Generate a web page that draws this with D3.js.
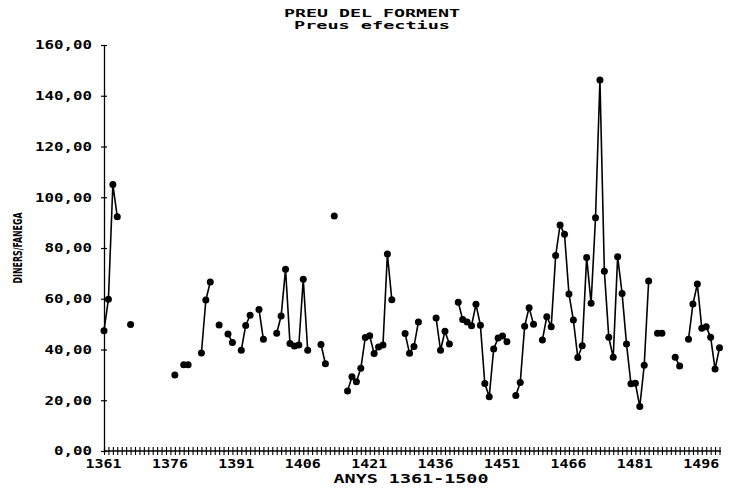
<!DOCTYPE html>
<html>
<head>
<meta charset="utf-8">
<script src="https://cdn.jsdelivr.net/npm/d3@7"></script>
<style>
  html, body { margin: 0; padding: 0; background: #fff; }
  svg { display: block; }
  text { fill: #000; }
</style>
</head>
<body>
<svg id="chart" width="737" height="491"></svg>
<script>
// ---- Data ----
const title = "PREU DEL FORMENT";
const subtitle = "Preus efectius";
const xTitle = "ANYS 1361-1500";
const yTitle = "DINERS/FANEGA";

const firstYear = 1361;
const lastYear = 1500;
const labelYears = [1361, 1376, 1391, 1406, 1421, 1436, 1451, 1466, 1481, 1496];
const yTickValues = [0, 20, 40, 60, 80, 100, 120, 140, 160];
const yTickLabels = ["0,00", "20,00", "40,00", "60,00", "80,00", "100,00", "120,00", "140,00", "160,00"];

// price per year, 1361..1500 (null = no data)
const prices = [
  47.4, 59.8, 105, 92.3, null, null, 49.9, null, null, null,          // 1361-1370
  null, null, null, null, null, null, 30, null, 34, 34,               // 1371-1380
  null, null, 38.6, 59.5, 66.6, null, 49.7, null, 46.1, 42.8,         // 1381-1390
  null, 39.7, 49.5, 53.5, null, 55.8, 44, null, null, 46.4,           // 1391-1400
  53.2, 71.6, 42.4, 41.4, 41.8, 67.7, 39.7, null, null, 42,           // 1401-1410
  34.4, null, 92.6, null, null, 23.6, 29.3, 27.3, 32.6, 44.7,         // 1411-1420
  45.4, 38.4, 41, 41.8, 77.6, 59.6, null, null, 46.3, 38.5,           // 1421-1430
  41.2, 50.8, null, null, null, 52.4, 39.7, 47.2, 42.2, null,         // 1431-1440
  58.6, 51.8, 50.8, 49.4, 57.8, 49.6, 26.6, 21.4, 40.2, 44.5,         // 1441-1450
  45.3, 43.1, null, 21.9, 27, 49.2, 56.5, 50, null, 43.7,             // 1451-1460
  52.9, 49, 77, 89.1, 85.4, 61.9, 51.6, 36.8, 41.5, 76.3,             // 1461-1470
  58.2, 91.9, 146.2, 70.8, 44.8, 36.9, 76.6, 62.1, 42.2, 26.5,        // 1471-1480
  26.7, 17.5, 33.8, 67, null, 46.4, 46.4, null, null, 36.9,           // 1481-1490
  33.5, null, 44, 57.9, 65.8, 48.4, 49, 44.8, 32.3, 40.7              // 1491-1500
];

const years = d3.range(firstYear, lastYear + 1);
const series = years.map((y, i) => ({ year: y, value: prices[i] }));

// ---- Layout ----
const svg = d3.select("#chart");
const x = d3.scaleLinear().domain([firstYear, lastYear]).range([104, 719.5]);
const y = d3.scaleLinear().domain([0, 160]).range([451, 45]);

const monoFont = "'DejaVu Sans Mono', 'Liberation Mono', monospace";

// Title
svg.append("text")
  .attr("x", 372).attr("y", 17)
  .attr("text-anchor", "middle")
  .attr("font-family", monoFont).attr("font-weight", "bold").attr("font-size", 11)
  .attr("textLength", 176).attr("lengthAdjust", "spacingAndGlyphs")
  .text(title);
svg.append("text")
  .attr("x", 372).attr("y", 29)
  .attr("text-anchor", "middle")
  .attr("font-family", monoFont).attr("font-weight", "bold").attr("font-size", 11)
  .attr("textLength", 156).attr("lengthAdjust", "spacingAndGlyphs")
  .text(subtitle);

// Y axis
const yAxis = d3.axisLeft(y)
  .tickValues(yTickValues)
  .tickSize(0)
  .tickPadding(12)
  .tickFormat((d, i) => yTickLabels[i]);
const gy = svg.append("g").attr("transform", "translate(104,0)").call(yAxis);
gy.select(".domain").attr("stroke", "#000").attr("stroke-width", 1.3);
gy.selectAll(".tick text")
  .attr("font-family", monoFont).attr("font-weight", "bold").attr("font-size", 12)
  .attr("fill", "#000")
  .each(function(d, i) {
    const lbl = yTickLabels[i];
    d3.select(this).attr("textLength", lbl.length * 9.5).attr("lengthAdjust", "spacingAndGlyphs");
  });
gy.selectAll(".tick").append("line")
  .attr("x1", -3).attr("x2", 3).attr("stroke", "#000").attr("stroke-width", 1.2);

// X axis: line, one tick per year
const gx = svg.append("g").attr("transform", "translate(0,451)");
const xAxis = d3.axisBottom(x)
  .tickValues(years)
  .tickSize(0)
  .tickFormat("");
gx.call(xAxis);
gx.select(".domain").attr("stroke", "#000").attr("stroke-width", 1.3)
  .attr("d", `M104,0H721`);
gx.selectAll(".tick").append("line")
  .attr("y1", -4).attr("y2", 4).attr("stroke", "#000").attr("stroke-width", 1.1);

// X tick labels
const gxl = svg.append("g").attr("transform", "translate(0,451)");
const xLabelAxis = d3.axisBottom(x)
  .tickValues(labelYears)
  .tickSize(0)
  .tickPadding(8)
  .tickFormat(d3.format("d"));
gxl.call(xLabelAxis);
gxl.select(".domain").remove();
gxl.selectAll(".tick text")
  .attr("font-family", monoFont).attr("font-weight", "bold").attr("font-size", 12)
  .attr("fill", "#000")
  .attr("dx", -1)
  .attr("textLength", 36).attr("lengthAdjust", "spacingAndGlyphs");

// Axis titles
svg.append("text")
  .attr("x", 411).attr("y", 483)
  .attr("text-anchor", "middle")
  .attr("font-family", monoFont).attr("font-weight", "bold").attr("font-size", 12)
  .attr("textLength", 155).attr("lengthAdjust", "spacingAndGlyphs")
  .text(xTitle);
svg.append("text")
  .attr("transform", "translate(22,248) rotate(-90)")
  .attr("text-anchor", "middle")
  .attr("font-family", "'DejaVu Sans Condensed', 'DejaVu Sans', sans-serif")
  .attr("font-weight", "bold").attr("font-size", 12)
  .attr("textLength", 71).attr("lengthAdjust", "spacingAndGlyphs")
  .text(yTitle);

// Line (broken where data missing)
const line = d3.line()
  .defined(d => d.value !== null)
  .x(d => x(d.year))
  .y(d => y(d.value));
svg.append("path")
  .datum(series)
  .attr("fill", "none")
  .attr("stroke", "#000")
  .attr("stroke-width", 1.6)
  .attr("d", line);

// Dots
svg.append("g")
  .selectAll("circle")
  .data(series.filter(d => d.value !== null))
  .join("circle")
  .attr("cx", d => x(d.year))
  .attr("cy", d => y(d.value))
  .attr("r", 3.5)
  .attr("fill", "#000");
</script>
</body>
</html>
